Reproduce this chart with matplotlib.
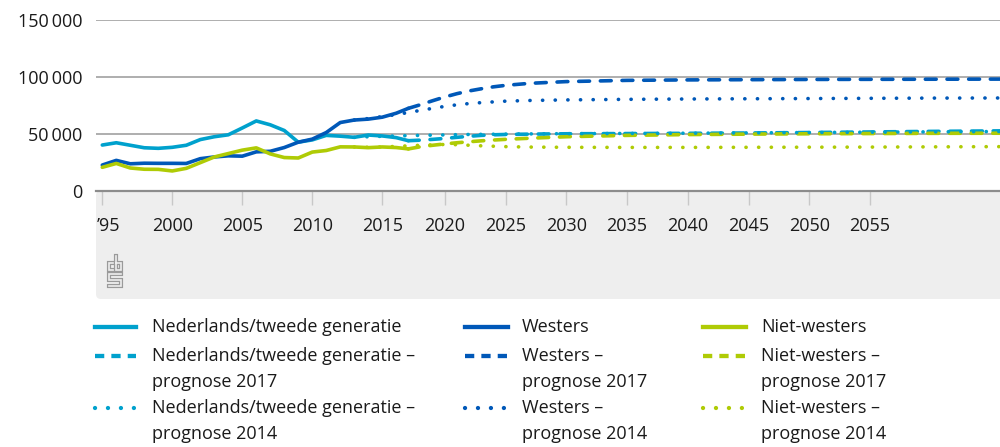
import numpy as np
import matplotlib
matplotlib.use("Agg")
import matplotlib.pyplot as plt
from matplotlib.lines import Line2D
from matplotlib.patches import FancyBboxPatch
from matplotlib.transforms import IdentityTransform, Affine2D

# ---------------- data ----------------
years_hist = list(range(1995, 2018))
ned_hist = [40000, 42000, 39800, 37600, 37100, 38000, 39800, 44800, 47300, 49000, 55000, 61200,
            57800, 52800, 42500, 44500, 48500, 47800, 46800, 48800, 48000, 46500, 43800]
west_hist = [22400, 26500, 23500, 24000, 23900, 23900, 23800, 28000, 29500, 30500, 30200, 34000,
             34500, 37800, 42500, 45200, 51000, 59800, 62000, 62800, 64500, 68000, 72300]
nw_hist = [20400, 23800, 19800, 18700, 18600, 17200, 19500, 24500, 29500, 32500, 35500, 37500,
           32200, 29000, 28600, 33800, 35200, 38400, 38300, 37700, 38300, 37800, 36600]

years_p17 = [2017, 2018, 2019, 2020, 2021, 2022, 2023, 2024, 2025, 2027, 2030, 2035, 2040, 2045,
             2050, 2055, 2060, 2066]
ned_p17 = [43800, 44300, 45000, 45800, 46800, 47700, 48500, 49000, 49300, 49600, 49900, 50100,
           50300, 50600, 51000, 51500, 52000, 52500]
west_p17 = [72300, 75500, 79000, 82300, 85200, 87600, 89500, 91200, 92500, 94300, 95800, 96900,
            97300, 97500, 97700, 97800, 97900, 98000]
nw_p17 = [36600, 38500, 39800, 41000, 42000, 42900, 43700, 44400, 45000, 46000, 47300, 48500,
          49200, 49600, 49900, 50100, 50300, 50400]

years_p14 = [2013, 2014, 2015, 2016, 2017, 2018, 2019, 2020, 2021, 2022, 2023, 2025, 2027, 2030,
             2035, 2040, 2045, 2050, 2055, 2060, 2066]
ned_p14 = [46800, 47300, 47700, 48000, 48300, 48500, 48700, 48900, 49100, 49300, 49400, 49600,
           49800, 50000, 50200, 50400, 50700, 51000, 51300, 51600, 51900]
west_p14 = [62000, 63300, 65000, 66800, 68600, 70500, 72300, 74000, 75400, 76500, 77300, 78600,
            79200, 79700, 80200, 80500, 80700, 80900, 81100, 81300, 81400]
nw_p14 = [38300, 38000, 38300, 38800, 39300, 39800, 40200, 40500, 40300, 39800, 39300, 38600,
          38200, 38000, 37900, 37900, 38000, 38100, 38200, 38400, 38600]

series_names = ["Nederlands/tweede generatie", "Westers", "Niet-westers"]
suffix_p17 = "prognose 2017"
suffix_p14 = "prognose 2014"
xtick_years = list(range(1995, 2060, 5))
xtick_labels = ["\u201995"] + [str(y) for y in xtick_years[1:]]
ytick_vals = [0, 50000, 100000, 150000]
ytick_labels = ["0", "50\u2009000", "100\u2009000", "150\u2009000"]

# ---------------- style ----------------
C_NED = "#00A1CD"
C_WEST = "#0058B8"
C_NW = "#AFCB05"
colors = [C_NED, C_WEST, C_NW]
FONT = ["Open Sans", "DejaVu Sans"]
TXT = "#1a1a1a"

W, H = 1000, 447
fig = plt.figure(figsize=(W / 100, H / 100), dpi=100)
fig.patch.set_facecolor("white")

# band under x axis (pixel coordinates, y measured from top)
px = Affine2D().scale(1, -1).translate(0, H)
band = FancyBboxPatch((96, H - 299), 940, 299 - 190.5,
                      boxstyle="round,pad=0,rounding_size=5",
                      transform=IdentityTransform(), fc="#eeeeee", ec="none", zorder=-5)
fig.patches.append(band)

ax = fig.add_axes([96 / W, 1 - 190.5 / H, 1 - 96 / W, (190.5 - 20) / H])
ax.set_facecolor("none")
ax.set_zorder(2)

BREAK = 2016.0
S1, S2 = 14.0, 12.15


def fwd(x):
    x = np.asarray(x, dtype=float)
    return np.where(x <= BREAK, (x - BREAK) * S1, (x - BREAK) * S2)


def inv(y):
    y = np.asarray(y, dtype=float)
    return np.where(y <= 0, y / S1 + BREAK, y / S2 + BREAK)


ax.set_xscale("function", functions=(fwd, inv))

LW = 2.6
for yv, c in zip([ned_hist, west_hist, nw_hist], colors):
    ax.plot(years_hist, yv, color=c, lw=LW, solid_capstyle="round", solid_joinstyle="round", zorder=3)
for yv, c in zip([ned_p17, west_p17, nw_p17], colors):
    ax.plot(years_p17, yv, color=c, lw=LW, linestyle=(0, (3, 3)), dash_capstyle="round", zorder=4)
for yv, c in zip([ned_p14, west_p14, nw_p14], colors):
    ax.plot(years_p14, yv, color=c, lw=LW, linestyle=(0, (0.05, 3.45)), dash_capstyle="round", zorder=5)

ax.set_xlim(1994.55, 2065.7)
ax.set_ylim(0, 150000)

ax.set_yticks(ytick_vals)
ax.set_yticklabels(ytick_labels, fontfamily=FONT, fontsize=13, color=TXT)
ax.tick_params(axis="y", length=0, pad=10)
ax.yaxis.grid(True, color="#a8a8a8", lw=1.3, zorder=1)
ax.set_axisbelow(True)

ax.set_xticks(xtick_years)
ax.set_xticklabels([""] + xtick_labels[1:], fontfamily=FONT, fontsize=13, color=TXT)
ax.tick_params(axis="x", direction="out", length=10, width=1, color="#c8c8c8", pad=9.3)
ax.annotate(xtick_labels[0], xy=(0, 0), xycoords="axes fraction", xytext=(0.5, -19.3),
            textcoords="offset points", ha="left", va="top", fontfamily=FONT, fontsize=13, color=TXT)

for s in ["top", "right", "left"]:
    ax.spines[s].set_visible(False)
ax.spines["bottom"].set_color("#8c8c8c")
ax.spines["bottom"].set_linewidth(1.6)
ax.spines["bottom"].set_zorder(2)

# cbs logo
logo_paths = [
    [(114, 263), (109, 263), (109, 270), (114, 270)],
    [(116, 256), (116, 270), (121, 270), (121, 263), (116, 263)],
    [(121, 274), (109, 274), (109, 280), (121, 280), (121, 286), (109, 286)],
]
for p in logo_paths:
    xs, ys = zip(*p)
    fig.add_artist(Line2D(xs, ys, transform=px, color="#9a9a9a", lw=3.0,
                          solid_joinstyle="miter", solid_capstyle="projecting"))
    fig.add_artist(Line2D(xs, ys, transform=px, color="#eeeeee", lw=1.2,
                          solid_joinstyle="miter", solid_capstyle="projecting"))

# legend (manual)
col_handle_x = [(95, 136), (465, 508), (703, 746)]
col_text_x = [152, 522, 761]
row_y = [327, 356, 408]
second_y = [None, 382, 434]
styles = [dict(linestyle="-"),
          dict(linestyle=(0, (2.15, 1.65)), dash_capstyle="butt"),
          dict(linestyle=(0, (0.01, 3.0)), dash_capstyle="round")]
suffixes = [None, suffix_p17, suffix_p14]
for ci in range(3):
    for ri in range(3):
        x0, x1 = col_handle_x[ci]
        y = row_y[ri]
        fig.add_artist(Line2D([x0, x1], [y, y], transform=px, color=colors[ci], lw=3.1, **styles[ri]))
        label = series_names[ci] if ri == 0 else series_names[ci] + " \u2013"
        fig.text(col_text_x[ci] / W, 1 - y / H, label, ha="left", va="center",
                 fontfamily=FONT, fontsize=13, color=TXT)
        if suffixes[ri]:
            fig.text(col_text_x[ci] / W, 1 - second_y[ri] / H, suffixes[ri], ha="left", va="center",
                     fontfamily=FONT, fontsize=13, color=TXT)

fig.savefig("out.png", dpi=100)
